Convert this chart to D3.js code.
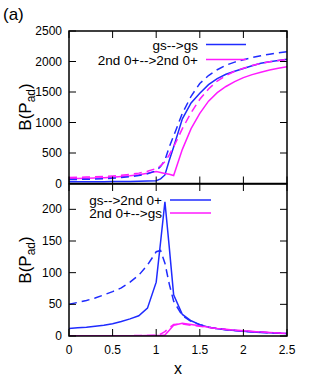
<!DOCTYPE html>
<html>
<head>
<meta charset="utf-8">
<script src="https://cdn.jsdelivr.net/npm/d3@7"></script>
<style>
  body { margin: 0; background: #fff; }
  svg { display: block; font-family: "Liberation Sans", Arial, sans-serif; }
</style>
</head>
<body>
<div id="chart"></div>
<script>

// x grid shared by all curves
var xGrid = [0, 0.1, 0.2, 0.3, 0.4, 0.5, 0.6, 0.7, 0.8, 0.9, 1.0, 1.05, 1.1, 1.15, 1.2,
             1.3, 1.4, 1.5, 1.6, 1.7, 1.8, 1.9, 2.0, 2.1, 2.2, 2.3, 2.4, 2.5];

// top panel: gs-->gs (blue) and 2nd 0+-->2nd 0+ (magenta), solid and dashed
var gsGsSolid = [30, 30, 30, 30, 30, 31, 32, 34, 37, 40, 45, 75, 140, 380, 600,
                 1060, 1320, 1480, 1620, 1720, 1790, 1840, 1885, 1930, 1970, 1995, 2017, 2036];
var gsGsDash = [65, 67, 70, 74, 80, 88, 98, 112, 130, 160, 210, 280, 380, 600, 780,
                1150, 1430, 1640, 1770, 1865, 1940, 1990, 2030, 2065, 2095, 2120, 2142, 2161];
var ex2Solid = [80, 82, 85, 90, 96, 104, 114, 127, 145, 168, 195, 180, 165, 150, 130,
                560, 900, 1150, 1350, 1490, 1590, 1670, 1735, 1785, 1825, 1860, 1890, 1915];
var ex2Dash = [100, 102, 105, 110, 116, 124, 135, 150, 170, 200, 245, 290, 357, 470, 600,
               900, 1160, 1380, 1550, 1680, 1770, 1840, 1890, 1935, 1970, 1995, 2015, 2030];

// bottom panel: gs-->2nd 0+ (blue) and 2nd 0+-->gs (magenta)
var gsEx2Solid = [12, 13, 14, 15.5, 17, 19.5, 23, 27, 32, 44, 85, 148, 212, 140, 65,
                  34, 24, 18, 14, 11.5, 10, 8.8, 7.5, 6.5, 5.7, 5, 4.4, 3.8];
var gsEx2Dash = [50, 53, 56, 60, 65, 70, 76, 85, 96, 112, 133, 135, 115, 82, 55,
                 32, 23, 18, 14, 11.5, 10, 8.8, 7.6, 6.6, 5.8, 5.1, 4.5, 3.9];
var ex2GsSolid = [0.2, 0.2, 0.2, 0.3, 0.3, 0.3, 0.4, 0.4, 0.5, 0.6, 0.8, 1, 1.5, 9, 17,
                  20, 18, 16, 14, 12, 10.5, 9.2, 8.3, 7.3, 6.4, 5.6, 4.8, 4];
var ex2GsDash = [0.3, 0.3, 0.3, 0.4, 0.4, 0.4, 0.5, 0.6, 0.7, 0.9, 1.2, 3, 7, 13, 18,
                 19, 17, 15.5, 13.5, 11.8, 10.2, 9, 8.1, 7.2, 6.3, 5.5, 4.7, 3.9];

var xTicks = [0, 0.5, 1, 1.5, 2, 2.5];
var yTicksTop = [0, 500, 1000, 1500, 2000, 2500];
var yTicksBottom = [0, 50, 100, 150, 200];

var blue = "#1f2bff", magenta = "#ff1aff";

var width = 313, height = 382,
    left = 69, right = 287;

var svg = d3.select("#chart")
    .append("svg")
        .attr("width", width)
        .attr("height", height);

var xScale = d3.scaleLinear().domain([0, 2.5]).range([left, right]);

function drawPanel(opts) {
    var yScale = d3.scaleLinear().domain(opts.domain).range([opts.bottom, opts.top]);
    var g = svg.append("g");

    var line = d3.line()
        .x(function(d) { return xScale(d[0]); })
        .y(function(d) { return yScale(d[1]); });

    // curves, clipped to the frame
    var clipId = "clip" + opts.id;
    svg.append("clipPath").attr("id", clipId)
        .append("rect")
        .attr("x", left).attr("y", opts.top)
        .attr("width", right - left).attr("height", opts.bottom - opts.top);

    var curves = g.append("g").attr("clip-path", "url(#" + clipId + ")");
    opts.series.forEach(function(s) {
        curves.append("path")
            .attr("d", line(xGrid.map(function(x, i) { return [x, s.values[i]]; })))
            .attr("fill", "none")
            .attr("stroke", s.color)
            .attr("stroke-width", 1.5)
            .attr("stroke-dasharray", s.dash ? "8,5" : null);
    });

    // inward ticks on all four sides, like gnuplot mirror tics
    var tickLen = 7;
    xTicks.forEach(function(t) {
        g.append("line").attr("x1", xScale(t)).attr("x2", xScale(t))
            .attr("y1", opts.bottom).attr("y2", opts.bottom - tickLen)
            .attr("stroke", "#000").attr("stroke-width", 1);
        g.append("line").attr("x1", xScale(t)).attr("x2", xScale(t))
            .attr("y1", opts.top).attr("y2", opts.top + tickLen)
            .attr("stroke", "#000").attr("stroke-width", 1);
    });
    opts.yTicks.forEach(function(t) {
        g.append("line").attr("x1", left).attr("x2", left + tickLen)
            .attr("y1", yScale(t)).attr("y2", yScale(t))
            .attr("stroke", "#000").attr("stroke-width", 1);
        g.append("line").attr("x1", right).attr("x2", right - tickLen)
            .attr("y1", yScale(t)).attr("y2", yScale(t))
            .attr("stroke", "#000").attr("stroke-width", 1);
        g.append("text")
            .attr("x", left - 7)
            .attr("y", yScale(t) + 4)
            .attr("text-anchor", "end")
            .attr("font-size", 12)
            .text(t);
    });

    // frame
    g.append("rect")
        .attr("x", left).attr("y", opts.top)
        .attr("width", right - left).attr("height", opts.bottom - opts.top)
        .attr("fill", "none").attr("stroke", "#000").attr("stroke-width", 1.5);

    // legend
    opts.series.filter(function(s) { return s.label; }).forEach(function(s, i) {
        var ly = opts.legendY + i * opts.legendStep;
        g.append("text")
            .attr("x", opts.legendX)
            .attr("y", ly + 5)
            .attr("text-anchor", "end")
            .attr("font-size", 13.5)
            .text(s.label);
        g.append("line")
            .attr("x1", opts.legendX + 8).attr("x2", opts.legendX + opts.legendLen)
            .attr("y1", ly).attr("y2", ly)
            .attr("stroke", s.color).attr("stroke-width", 1.5);
    });

    // y title B(P_ad)
    var yt = g.append("text")
        .attr("transform", "translate(31," + opts.titleY + ") rotate(-90)")
        .attr("text-anchor", "middle")
        .attr("font-size", 17);
    yt.append("tspan").text("B(P");
    yt.append("tspan").attr("font-size", 12).attr("dy", 4).text("ad");
    yt.append("tspan").attr("dy", -4).text(")");

    return yScale;
}

drawPanel({
    id: "top", top: 31, bottom: 183.5, domain: [0, 2500], yTicks: yTicksTop,
    legendX: 198, legendY: 44.5, legendStep: 15, legendLen: 48, titleY: 107,
    series: [
        { values: gsGsSolid, color: blue, label: "gs-->gs" },
        { values: ex2Solid, color: magenta, label: "2nd 0+-->2nd 0+" },
        { values: gsGsDash, color: blue, dash: true },
        { values: ex2Dash, color: magenta, dash: true }
    ]
});

drawPanel({
    id: "bottom", top: 184, bottom: 336, domain: [0, 240], yTicks: yTicksBottom,
    legendX: 162, legendY: 200, legendStep: 13, legendLen: 49, titleY: 260,
    series: [
        { values: gsEx2Solid, color: blue, label: "gs-->2nd 0+" },
        { values: ex2GsSolid, color: magenta, label: "2nd 0+-->gs" },
        { values: gsEx2Dash, color: blue, dash: true },
        { values: ex2GsDash, color: magenta, dash: true }
    ]
});

// x tick labels and title
xTicks.forEach(function(t) {
    svg.append("text")
        .attr("x", xScale(t))
        .attr("y", 354)
        .attr("text-anchor", "middle")
        .attr("font-size", 12)
        .text(t);
});

svg.append("text")
    .attr("x", xScale(1.25))
    .attr("y", 374)
    .attr("text-anchor", "middle")
    .attr("font-size", 16)
    .text("x");

svg.append("text")
    .attr("x", 3)
    .attr("y", 20)
    .attr("font-size", 17)
    .text("(a)");

</script>
</body>
</html>
